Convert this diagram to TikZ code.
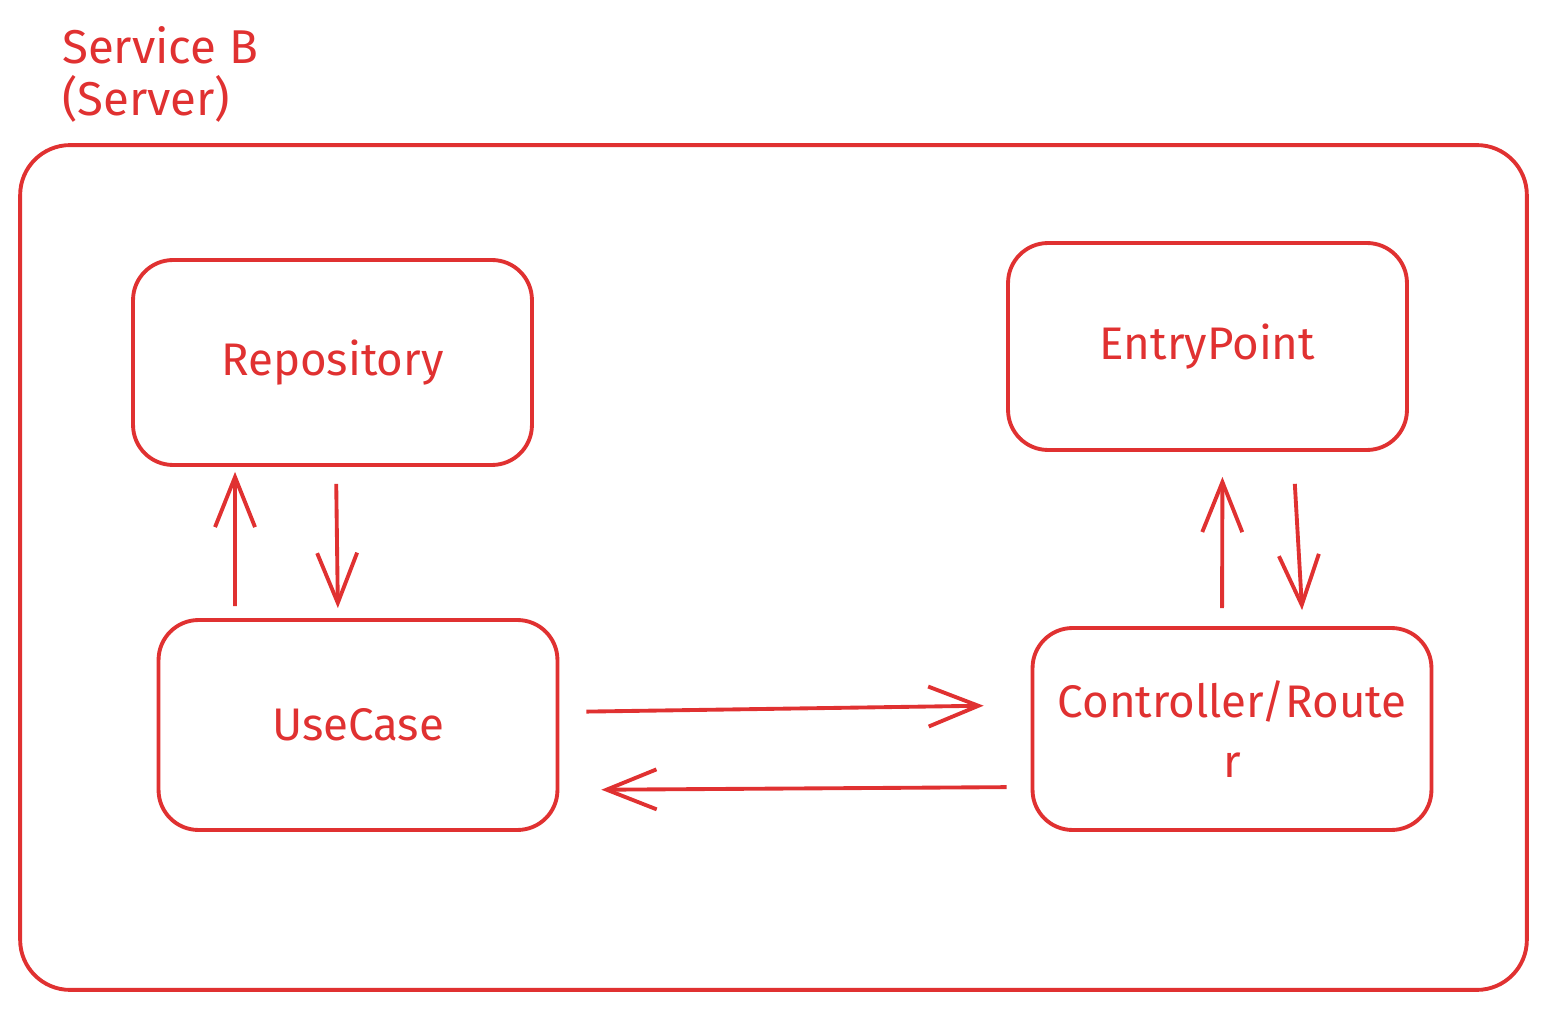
\documentclass[tikz,border=0pt]{standalone}
\usepackage{fontspec}
\setmainfont{Fira Sans}
\usetikzlibrary{arrows.meta}
\definecolor{sketchred}{HTML}{E03131}

\begin{document}
\begin{tikzpicture}[
    x=0.02cm, y=-0.02cm,
    box/.style={draw=sketchred, line width=2.2pt, rounded corners=0.8cm,
        minimum width=7.98cm, minimum height=4.1cm, align=center,
        text=sketchred, font=\fontsize{26}{34}\selectfont},
    frame/.style={draw=sketchred, line width=2.2pt, rounded corners=1cm,
        minimum width=30.14cm, minimum height=16.9cm},
    flow/.style={draw=sketchred, line width=2.2pt,
        -{Straight Barb[length=1cm, width=0.8cm, line width=2.2pt]}},
    title label/.style={text=sketchred, align=left, anchor=north west,
        font=\fontsize{27}{30}\selectfont}
]
\useasboundingbox (0,0) rectangle (1546,1010);

% Title
\node[title label] (title) at (56,20) {Service B\\(Server)};

% Service frame
\node[frame] (server) at (773.5,567.5) {};

% Components
\node[box] (repo) at (332.5,362.5) {Repository};
\node[box, minimum height=4.14cm] (entry) at (1207.5,346.5) {EntryPoint};
\node[box, minimum height=4.2cm] (usecase) at (358,725) {UseCase};
\node[box, minimum height=4.04cm] (ctrl) at (1232,729) {Controller/Route\\r};

% Connections
\draw[flow, shorten <=0.24cm, shorten >=0.1cm] ([xshift=-2.46cm]usecase.north) -- ([xshift=-1.95cm]repo.south);
\draw[flow, shorten <=0.34cm, shorten >=0.2cm] ([xshift=0.07cm]repo.south) -- ([xshift=-0.4cm]usecase.north);
\draw[flow, shorten <=0.36cm, shorten >=0.5cm] ([xshift=-0.2cm]ctrl.north) -- ([xshift=0.3cm]entry.south);
\draw[flow, shorten <=0.64cm, shorten >=0.32cm] ([xshift=1.71cm]entry.south) -- ([xshift=1.42cm]ctrl.north);
\draw[flow, shorten <=0.54cm, shorten >=0.94cm] ([yshift=0.26cm]usecase.east) -- ([yshift=0.48cm]ctrl.west);
\draw[flow, shorten <=0.48cm, shorten >=0.84cm] ([yshift=-1.16cm]ctrl.west) -- ([yshift=-1.3cm]usecase.east);

\end{tikzpicture}
\end{document}
